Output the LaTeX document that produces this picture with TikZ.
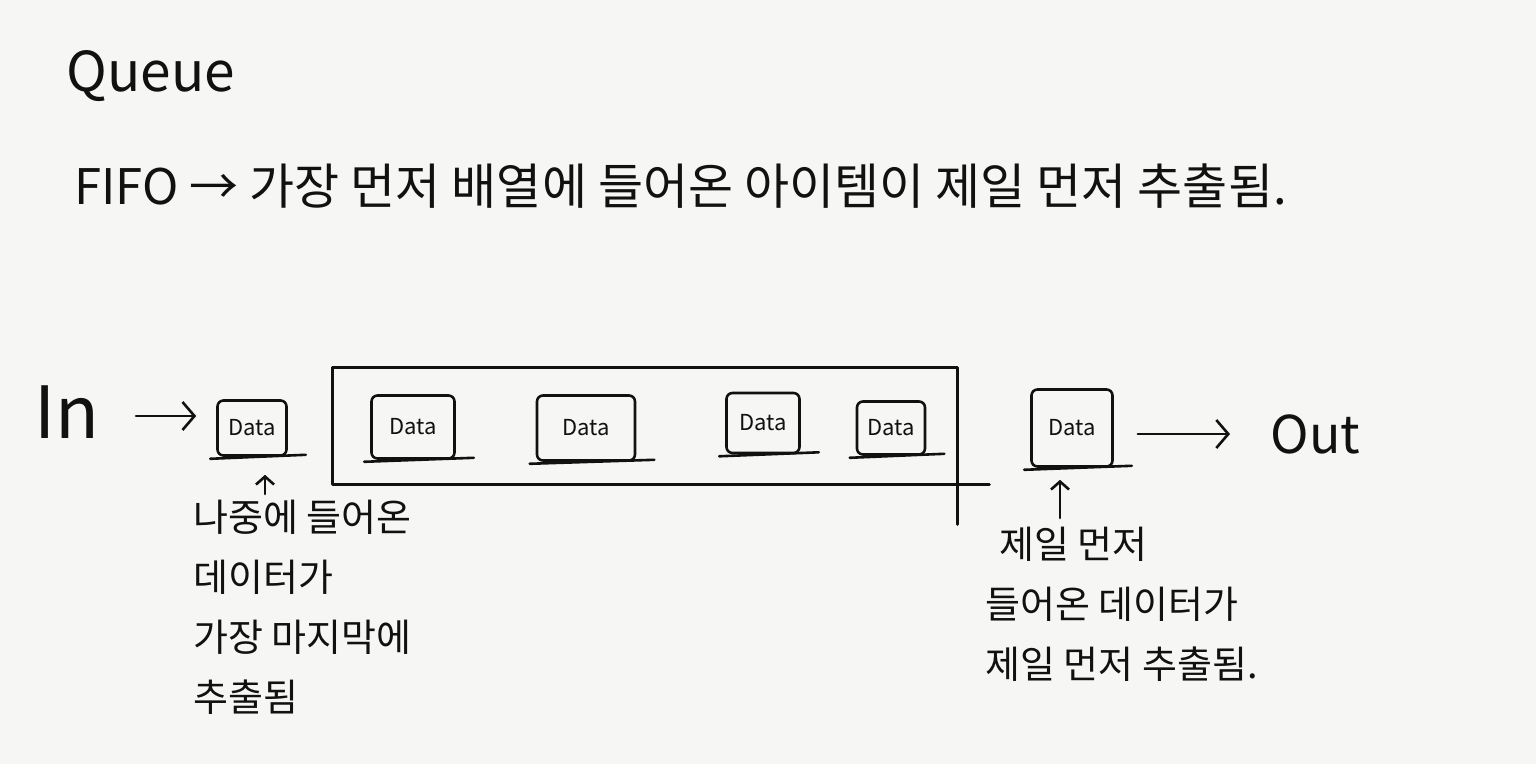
\documentclass[tikz,border=0pt]{standalone}
\usepackage{fontspec}
\setmainfont{Noto Sans CJK KR}
\usetikzlibrary{arrows.meta}
\definecolor{paper}{HTML}{F6F6F4}
\definecolor{ink}{HTML}{111111}
\tikzset{
  ink/.style={draw=ink, line width=1.3pt, line cap=round, line join=round},
  databox/.style={ink, rounded corners=3pt, inner sep=0pt, font=\fontsize{11}{12}\selectfont, text=ink},
  holder/.style={ink, inner sep=0pt, outer sep=0pt},
  flow/.style={ink, -{Straight Barb[length=6pt,width=14pt,line width=1.3pt]}},
  upflow/.style={ink, -{Straight Barb[length=4pt,width=9pt,line width=1.3pt]}},
  label/.style={text=ink, inner sep=0pt},
  note/.style={label, align=left, font=\fontsize{19}{30}\selectfont},
}
\begin{document}
\begin{tikzpicture}[x=0.5pt,y=-0.5pt]
\fill[paper] (0,0) rectangle (1536,764);
\useasboundingbox (0,0) rectangle (1536,764);

% title and definition
\node[label, anchor=west, font=\fontsize{27.5}{30}\selectfont] (title) at (66,76) {Queue};
\node[label, anchor=west, font=\fontsize{24.5}{28}\selectfont] (fifo) at (74,186) {FIFO → 가장 먼저 배열에 들어온 아이템이 제일 먼저 추출됨.};

% In / Out labels
\node[label, anchor=west, font=\fontsize{36}{40}\selectfont] (in) at (34,412) {In};
\node[label, anchor=west, font=\fontsize{26}{30}\selectfont] (out) at (1270,434) {Out};

% queue container
\node[holder, minimum width=312.5pt, minimum height=58.5pt] (queue) at (645,426) {};
\coordinate (qr) at ([yshift=-20pt]queue.south east);
\coordinate (qb) at ([xshift=16pt]queue.south east);
\draw[ink] (queue.south east) -- (qr);
\draw[ink] (queue.south east) -- (qb);

% data boxes
\node[databox, minimum width=34.5pt, minimum height=27.5pt] (b0) at (252,428) {Data};
\node[databox, minimum width=41.5pt, minimum height=31.5pt] (b1) at (413,427) {Data};
\node[databox, minimum width=49pt,   minimum height=32.5pt] (b2) at (586,428) {Data};
\node[databox, minimum width=36.5pt, minimum height=30pt]   (b3) at (763,423) {Data};
\node[databox, minimum width=34pt,   minimum height=26.5pt] (b4) at (891,428) {Data};
\node[databox, minimum width=40.5pt, minimum height=38.5pt] (b5) at (1072,428) {Data};

% underline strokes extending past each box
\foreach \b in {b0,b1,b2,b3,b4,b5}{
  \draw[ink] ([xshift=-3pt,yshift=-1pt]\b.south west) -- ([xshift=9pt,yshift=1pt]\b.south east);
}

% flow arrows
\coordinate (ia) at (136,416);
\draw[flow] (ia) -- ([xshift=-10pt]ia -| b0.west);
\draw[flow] ([xshift=12pt]b5.east |- out.west) -- ([xshift=-20pt]out.west);

% up arrows
\coordinate (u0) at (265,494);
\coordinate (u5) at (1060,518);
\draw[upflow] (u0) -- ([yshift=-9pt]u0 |- b0.south);
\draw[upflow] (u5) -- ([yshift=-6pt]u5 |- b5.south);

% notes
\node[note, anchor=north west] (nl) at (193,500) {나중에 들어온\\데이터가\\가장 마지막에\\추출됨};
\node[note, anchor=north west] (nr) at (985,527) {\hspace{7pt}제일 먼저\\들어온 데이터가\\제일 먼저 추출됨.};
\end{tikzpicture}
\end{document}
